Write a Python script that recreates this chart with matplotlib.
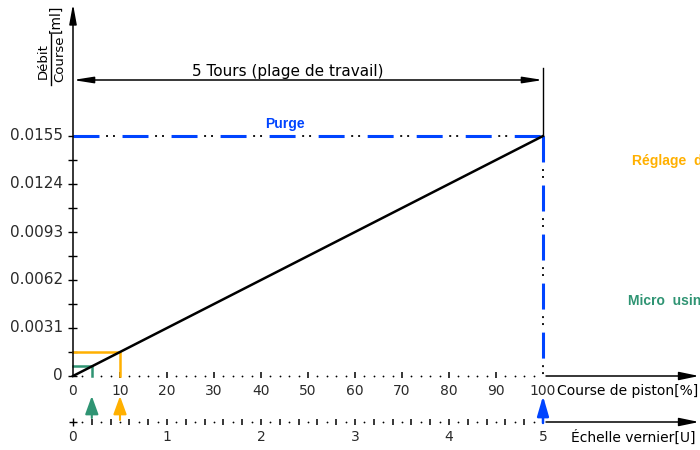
import numpy as np
import matplotlib.pyplot as plt

plt.rcParams['lines.scale_dashes'] = False

# chart data
course_pct = [0, 100]
debit_ml = [0, 0.0155]
y_ticks = [0, 0.0031, 0.0062, 0.0093, 0.0124, 0.0155]
y_labels = ['0', '0.0031', '0.0062', '0.0093', '0.0124', '0.0155']
x_ticks = [0, 10, 20, 30, 40, 50, 60, 70, 80, 90, 100]
vernier_ticks = [0, 1, 2, 3, 4, 5]
micro_pt = (4, 0.00062)
reglage_pt = (10, 0.00155)
purge_pt = (100, 0.0155)
pct_per_tour = 20  # 5 tours = 100 %

BLUE = '#0044ff'
ORANGE = '#ffb000'
GREEN = '#2f9473'
GREY = '#2a2a2a'

# page layout (pixels)
W, H = 700, 450
PX_X0, PX_PER_PCT = 73, 4.7
PX_Y0, PX_PER_ML = 376, 240 / 0.0155


def row(py):
    return (PX_Y0 - py) / PX_PER_ML


def col(px):
    return (px - PX_X0) / PX_PER_PCT


def arrow(ax, tail, tip, color='k', lw=1.0, hl=12, hw=2.0, style='-|>'):
    ax.annotate('', xy=tip, xytext=tail,
                arrowprops=dict(arrowstyle=f'{style},head_length={hl},head_width={hw}',
                                color=color, lw=lw, shrinkA=0, shrinkB=0,
                                mutation_scale=1))


fig = plt.figure(figsize=(W / 100, H / 100), dpi=100)
ax = fig.add_axes([0, 0, 1, 1])
ax.set_xlim(col(0), col(W))
ax.set_ylim(row(H), row(0))
ax.axis('off')

# y axis
arrow(ax, (0, 0), (0, row(4)), lw=1.1, hl=12, hw=2.2)
y_minor = np.array(y_ticks[:-1]) + 0.0031 / 2
ax.hlines(y_ticks, col(68), col(77.5), color='k', lw=1)
ax.hlines(y_minor, col(68), col(77.5), color='k', lw=1)
for v, lab in zip(y_ticks, y_labels):
    ax.text(col(63), v, lab, ha='right', va='center', fontsize=11, color=GREY)

# y label: Débit / Course [ml]
ax.text(col(43), row(61), 'Débit', rotation=90, ha='center', va='center', fontsize=9.5)
ax.text(col(60), row(59), 'Course', rotation=90, ha='center', va='center', fontsize=9.5)
ax.plot([col(51.5), col(51.5)], [row(34), row(85)], color='k', lw=1)
ax.text(col(56), row(19), '[ml]', rotation=90, ha='center', va='center', fontsize=10)

# x axis (course de piston)
major = np.arange(10, 100, 10)
dots = np.array([d for d in np.arange(2, 100, 2) if d % 10 != 0 and d != micro_pt[0]])
ax.vlines(major, row(372), row(378), color='k', lw=1.1)
ax.plot(dots, [0] * len(dots), ls='none', marker='o', ms=1.3, mew=0, color='k')
arrow(ax, (col(546), 0), (col(699), 0), lw=1.1, hl=12, hw=2.5)
for t in x_ticks:
    ax.text(t, row(391), str(t), ha='center', va='center', fontsize=10, color=GREY)
ax.text(col(557), row(391), 'Course de piston[%]', ha='left', va='center', fontsize=10)

# vernier scale
y_v = row(422)
v_major = np.arange(0.2, 4.9, 0.2) * pct_per_tour
v_dots = np.arange(0.1, 5, 0.2) * pct_per_tour
ax.vlines(v_major, row(418.5), row(425), color='k', lw=1.1)
ax.plot(v_dots, [y_v] * len(v_dots), ls='none', marker='o', ms=1.3, mew=0, color='k')
ax.plot([0], [y_v], marker='+', ms=6, mew=1, color='k')
arrow(ax, (col(546), y_v), (col(699), y_v), lw=1.1, hl=12, hw=2.5)
for t in vernier_ticks:
    ax.text(t * pct_per_tour, row(437), str(t), ha='center', va='center', fontsize=10,
            color=GREY)
ax.text(col(571), row(437), 'Échelle vernier[U]', ha='left', va='center', fontsize=10)

# working range dimension
y_dim = row(80)
arrow(ax, (0, y_dim), (100, y_dim), lw=1.1, hl=12, hw=1.9, style='<|-|>')
ax.plot([100, 100], [row(68), purge_pt[1]], color='k', lw=1)
ax.text(col(288), row(71), '5 Tours (plage de travail)', ha='center', va='center',
        fontsize=11)

# purge (blue dash + black dots)
blue_dash = (0, (18.7, 16.6))
dot_dash = (11.5, (1.4, 3.6, 1.4, 28.9))
for xs, ys in [([0, purge_pt[0]], [purge_pt[1], purge_pt[1]]),
               ([purge_pt[0], purge_pt[0]], [purge_pt[1], 0])]:
    ax.plot(xs, ys, color=BLUE, lw=2.2, ls=blue_dash)
    ax.plot(xs, ys, color='k', lw=1.3, ls=dot_dash)

# reglage / micro corners
for (px_, py_), c in [(reglage_pt, ORANGE), (micro_pt, GREEN)]:
    ax.plot([0, px_, px_], [py_, py_, 0], color=c, lw=1.8, solid_joinstyle='miter')

# characteristic line
ax.plot(course_pct, debit_ml, color='k', lw=1.8)

# pointer arrows on vernier
arrow(ax, (micro_pt[0], row(418)), (micro_pt[0], row(396)), color=GREEN, lw=1.5, hl=11, hw=4.0)
arrow(ax, (reglage_pt[0], row(420)), (reglage_pt[0], row(396)), color=ORANGE, lw=1.5, hl=11, hw=4.0)
arrow(ax, (purge_pt[0], row(423)), (purge_pt[0], row(396)), color=BLUE, lw=1.8, hl=12, hw=3.5)

# annotations (cut by the right edge, as on the drawing)
ax.text(col(285), row(124), 'Purge', ha='center', va='center', fontsize=10,
        fontweight='bold', family='Liberation Sans', color=BLUE)
ax.text(col(632), row(161), 'Réglage  de débit', ha='left', va='center', fontsize=10,
        fontweight='bold', family='Liberation Sans', color=ORANGE)
ax.text(col(628), row(301), 'Micro  usinage', ha='left', va='center', fontsize=10,
        fontweight='bold', family='Liberation Sans', color=GREEN)

fig.savefig('out.png', dpi=100)
